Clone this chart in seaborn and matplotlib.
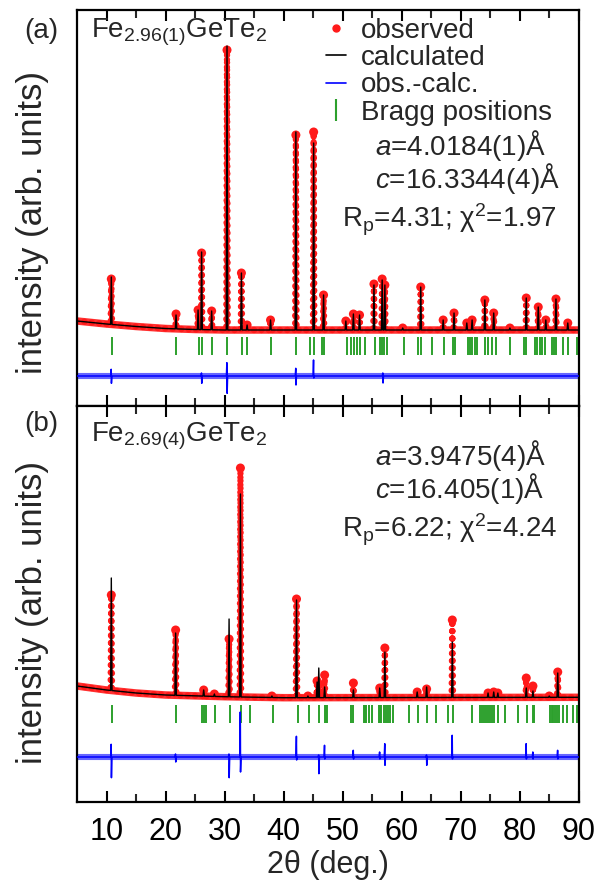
import numpy as np
import matplotlib
matplotlib.use("Agg")
import matplotlib.pyplot as plt
import seaborn as sns
from matplotlib.lines import Line2D
from matplotlib import font_manager

# ---------------- data ----------------
# panel (a): Fe2.96(1)GeTe2   (intensity in arbitrary units)
a_bg_x = [5, 10, 15, 20, 25, 30, 90]
a_bg_y = [85, 82, 79.5, 77.5, 76.5, 76, 76]
a_peak_pos = [10.81, 21.77, 25.5, 26.1, 27.8, 30.4, 32.84, 33.8, 37.77, 42.06,
              45.07, 46.75, 50.52, 51.8, 52.84, 55.28, 56.67, 57.13, 60.15, 63.2,
              67.0, 68.84, 71.0, 71.9, 74.06, 75.56, 78.3, 81.07, 83.1, 84.38,
              86.1, 88.1]
a_calc_top = [129, 91, 96, 154, 95, 360, 133, 81, 86, 274,
              263, 111, 85, 92, 91, 121, 126, 121, 78, 119,
              86, 93, 83, 86, 106, 93, 78, 108, 99, 86,
              107, 83]
a_obs_top = [127, 92, 96, 153, 95, 356, 133, 81, 86, 271,
             274, 111, 85, 92, 91, 122, 127, 121, 78, 119,
             86, 93, 83, 86, 106, 93, 78, 108, 99, 86,
             107, 83]
a_bragg = [10.93, 21.83, 25.59, 26.17, 27.91, 30.46, 32.90, 33.83, 37.77, 42.12,
           44.38, 45.07, 46.52, 46.87, 50.64, 51.45, 51.91, 52.38, 52.84, 53.77,
           55.39, 56.26, 56.67, 57.01, 57.42, 60.32, 62.81, 63.28, 65.13, 67.10,
           68.72, 68.96, 71.16, 71.51, 71.91, 72.32, 72.78, 74.06, 74.52, 75.22,
           75.97, 78.29, 80.61, 81.01, 82.52, 82.93, 83.33, 83.80, 84.26, 85.42,
           85.83, 86.12, 87.28, 88.14, 89.59]
a_diff_offset = 30
a_diff_pos = [10.81, 26.1, 30.4, 42.06, 45.07, 56.8]
a_diff_up = [6.7, 3, 13.3, 7.7, 16, 3]
a_diff_down = [7.3, 7.3, 17.3, 9, 2, 7]

# panel (b): Fe2.69(4)GeTe2
b_bg_x = [5, 10, 15, 20, 30, 40, 90]
b_bg_y = [116, 112, 109, 107, 105.3, 104.3, 104.7]
b_peak_pos = [10.81, 21.7, 26.45, 28.26, 30.75, 32.67, 38.0, 42.17, 44.1, 45.65,
              45.94, 46.93, 51.8, 56.26, 57.13, 62.6, 64.2, 68.55, 74.6, 75.56,
              76.26, 81.07, 82.2, 84.96, 86.4]
b_calc_top = [224, 169, 112, 108, 183, 308, 106, 202, 106, 120,
              134, 115, 112, 114, 150, 110, 115, 160, 109, 110,
              109, 114, 111, 106, 129]
b_obs_top = [207, 172, 112, 108, 163, 334, 106, 203, 106, 121,
             118, 127, 119, 114, 154, 110, 113, 182, 109, 110,
             109, 124, 116, 106, 130]
b_bragg = [10.87, 21.77, 26.12, 26.52, 26.81, 28.32, 30.93, 32.78, 34.23, 38.12,
           42.35, 44.20, 45.94, 46.99, 47.16, 47.39, 51.33, 51.80, 53.54, 53.77,
           54.00, 54.41, 54.93, 56.09, 56.32, 56.55, 57.01, 57.25, 57.59, 58.00,
           58.58, 61.19, 62.81, 64.20, 65.71, 67.86, 68.61, 71.91, 73.25, 73.65,
           73.94, 74.23, 74.64, 74.99, 75.22, 75.57, 76.26, 77.42, 79.74, 81.19,
           82.17, 82.46, 85.07, 85.36, 85.65, 85.94, 86.23, 86.58, 87.28, 87.97,
           88.90, 89.59]
b_diff_offset = 45
b_diff_pos = [10.81, 21.7, 30.75, 32.67, 42.17, 45.94, 46.93, 51.8, 56.26, 57.13,
              64.2, 68.55, 81.07, 82.2, 86.4]
b_diff_up = [12.7, 3, 3, 45, 20.7, 2, 11.7, 6.7, 5, 13.3, 2, 21.7, 13.3, 5, 6.7]
b_diff_down = [20.7, 5, 20.7, 15, 3, 16.7, 2, 2, 2, 8.3, 8.3, 2, 2, 2, 2]

x_ticks = [10, 20, 30, 40, 50, 60, 70, 80, 90]

# ---------------- helpers ----------------
HW = 0.12  # half width of a peak foot in degrees


def profile(bg_x, bg_y, pos, top):
    xs = list(bg_x)
    ys = list(bg_y)
    for p, t in zip(pos, top):
        xs += [p - HW, p, p + HW]
        ys += [float(np.interp(p - HW, bg_x, bg_y)), t, float(np.interp(p + HW, bg_x, bg_y))]
    order = np.argsort(xs, kind="stable")
    return np.asarray(xs)[order], np.asarray(ys)[order]


def diff_line(off, pos, up, down):
    xs = [5.0, 90.0]
    ys = [off, off]
    for p, u, d in zip(pos, up, down):
        xs += [p - 0.1, p - 0.02, p + 0.02, p + 0.1]
        ys += [off, off + u, off - d, off]
    order = np.argsort(xs, kind="stable")
    return np.asarray(xs)[order], np.asarray(ys)[order]


# ---------------- style ----------------
sns.set_theme(style="ticks")
plt.rcParams["font.family"] = ["Liberation Sans", "DejaVu Sans"]
plt.rcParams["mathtext.fontset"] = "custom"
plt.rcParams["mathtext.rm"] = "Liberation Sans"
plt.rcParams["mathtext.it"] = "Liberation Sans:italic"
plt.rcParams["mathtext.bf"] = "Liberation Sans:bold"

try:
    font_manager.findfont("Liberation Sans Narrow", fallback_to_default=False)
    ylab_family = ["Liberation Sans Narrow", "Liberation Sans"]
except Exception:
    ylab_family = ["Liberation Sans", "DejaVu Sans"]

RED = "#ff1a1a"
BLUE = "#0000ff"
GREEN = "#2ca02c"

W, H = 607, 884
fig = plt.figure(figsize=(W / 100, H / 100), dpi=100)
L, R = 77 / W, 579 / W
ax_a = fig.add_axes([L, 1 - 406 / H, R - L, 396 / H])
ax_b = fig.add_axes([L, 1 - 802 / H, R - L, 396 / H], sharex=ax_a)

panels = [
    (ax_a, a_bg_x, a_bg_y, a_peak_pos, a_calc_top, a_obs_top, a_bragg, (51, 69),
     a_diff_offset, a_diff_pos, a_diff_up, a_diff_down),
    (ax_b, b_bg_x, b_bg_y, b_peak_pos, b_calc_top, b_obs_top, b_bragg, (79, 97),
     b_diff_offset, b_diff_pos, b_diff_up, b_diff_down),
]

for (ax, bx, by, pp, ct, ot, bragg, brange, doff, dp, du, dd) in panels:
    xo, yo = profile(bx, by, pp, ot)
    xc, yc = profile(bx, by, pp, ct)
    # observed: solid band along background + dotted profile
    ax.plot(bx, by, color=RED, lw=5.4, solid_capstyle="round", solid_joinstyle="round",
            alpha=0.9, zorder=2)
    ax.plot(xo, yo, color=RED, lw=4.6, ls=(0, (0.01, 1.15)), dash_capstyle="round",
            zorder=2)
    sns.scatterplot(x=pp, y=ot, ax=ax, color=RED, s=42, edgecolor="none", zorder=3)
    # calculated
    sns.lineplot(x=xc, y=yc, ax=ax, color="black", lw=1.0, sort=False, estimator=None,
                 zorder=4)
    # Bragg positions
    ax.vlines(bragg, brange[0], brange[1], color=GREEN, lw=1.4, zorder=2)
    # difference: noise band + thin line with spikes
    ax.plot([5, 90], [doff, doff], color=BLUE, lw=4.4, alpha=0.6, zorder=2)
    xd, yd = diff_line(doff, dp, du, dd)
    sns.lineplot(x=xd, y=yd, ax=ax, color=BLUE, lw=1.1, sort=False, estimator=None, zorder=3)

    ax.set_xlim(5, 90)
    ax.set_ylim(0, 396)
    ax.set_yticks([])
    ax.set_ylabel("")
    ax.set_xlabel("")
    for s in ax.spines.values():
        s.set_linewidth(1.6)
        s.set_color("black")
    ax.set_xticks(x_ticks)
    ax.set_xticks(np.arange(15, 90, 10), minor=True)
    ax.tick_params(axis="x", which="major", direction="in", length=8, width=1.5,
                   top=True, bottom=True, labelsize=22, pad=11, colors="black")
    ax.tick_params(axis="x", which="minor", direction="in", length=6, width=1.5,
                   top=True, bottom=True)

ax_a.tick_params(axis="x", labelbottom=False)
ax_b.set_xlabel("2θ (deg.)", fontsize=22, labelpad=2)

# annotations panel (a)
ax_a.text(7.4, 369, "Fe$_{\\mathrm{2.96(1)}}$GeTe$_{\\mathrm{2}}$", fontsize=20, va="baseline")
ax_a.text(55.5, 251, "$a$=4.0184(1)Å", fontsize=20, va="baseline")
ax_a.text(55.5, 218, "$c$=16.3344(4)Å", fontsize=20, va="baseline")
ax_a.text(49.9, 178, "R$_{\\mathrm{p}}$=4.31; χ$^{\\mathrm{2}}$=1.97", fontsize=20, va="baseline")

# annotations panel (b)
ax_b.text(7.4, 360, "Fe$_{\\mathrm{2.69(4)}}$GeTe$_{\\mathrm{2}}$", fontsize=20, va="baseline")
ax_b.text(55.5, 337, "$a$=3.9475(4)Å", fontsize=20, va="baseline")
ax_b.text(55.5, 304, "$c$=16.405(1)Å", fontsize=20, va="baseline")
ax_b.text(49.9, 265, "R$_{\\mathrm{p}}$=6.22; χ$^{\\mathrm{2}}$=4.24", fontsize=20, va="baseline")

# legend
handles = [
    Line2D([], [], ls="none", marker="o", ms=5, color=RED),
    Line2D([], [], color="black", lw=1.2),
    Line2D([], [], color=BLUE, lw=1.2),
    Line2D([], [], ls="none", marker="|", ms=16, mew=1.5, color=GREEN),
]
labels = ["observed", "calculated", "obs.-calc.", "Bragg positions"]
ax_a.legend(handles, labels, loc="upper left", bbox_to_anchor=(0.497, 0.981),
            frameon=False, fontsize=20, handlelength=0.7, handletextpad=0.55,
            labelspacing=0.05, borderpad=0.0, borderaxespad=0.0)

# panel letters and y labels
fig.text(41 / W, 1 - 31 / H, "(a)", fontsize=20, ha="center", va="center")
fig.text(41 / W, 1 - 424 / H, "(b)", fontsize=20, ha="center", va="center")
fig.text(33 / W, 1 - 222 / H, "intensity (arb. units)", fontsize=25, rotation=90,
         ha="center", va="center", family=ylab_family)
fig.text(33 / W, 1 - 612 / H, "intensity (arb. units)", fontsize=25, rotation=90,
         ha="center", va="center", family=ylab_family)

fig.savefig("out.png", dpi=100)
